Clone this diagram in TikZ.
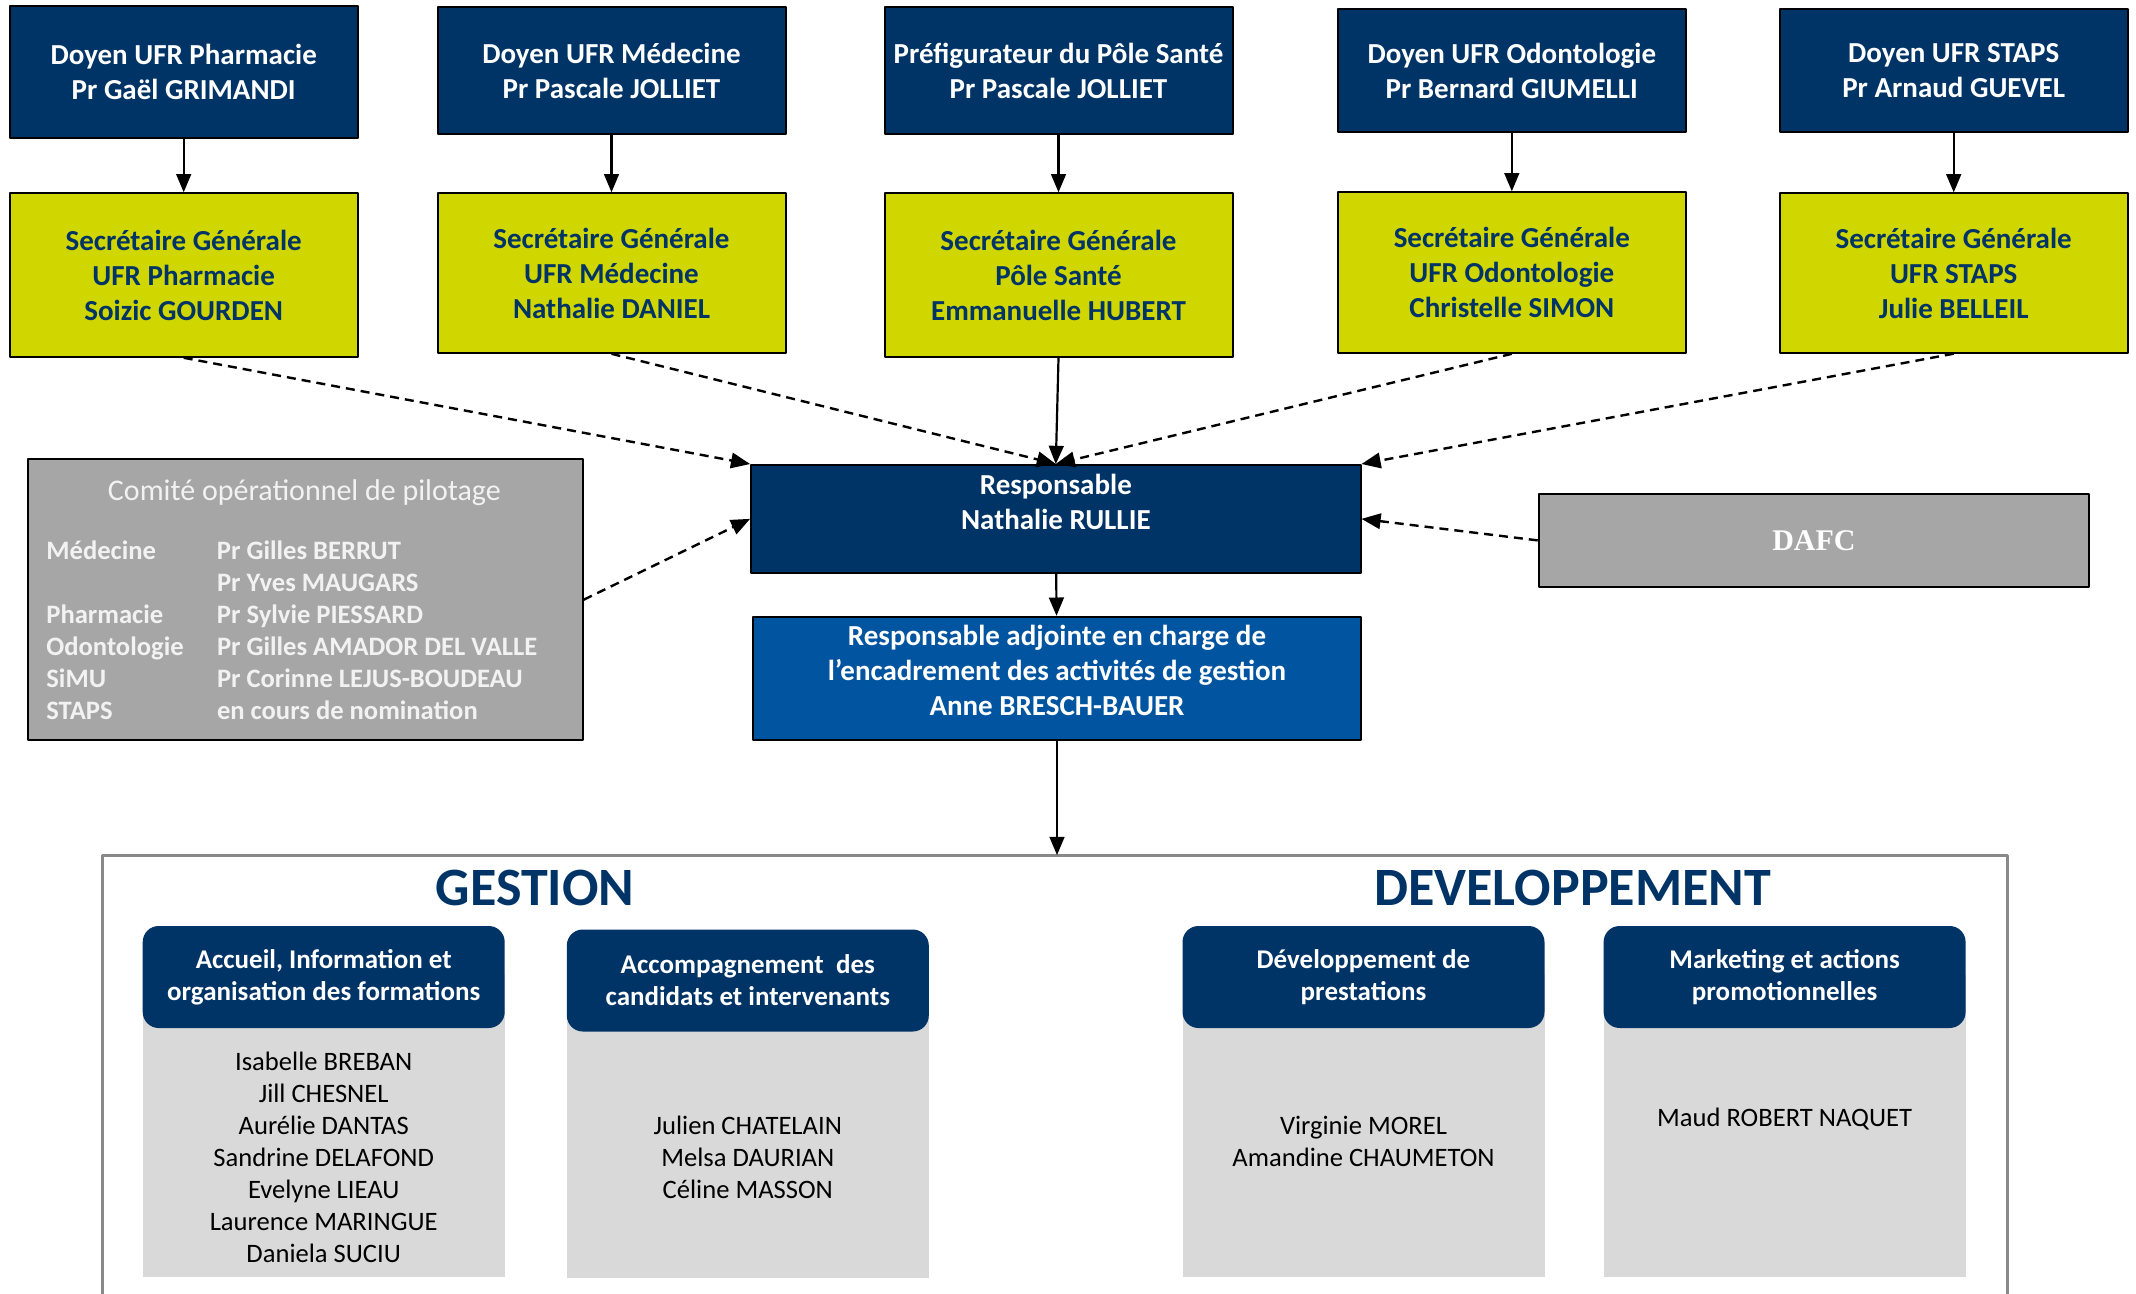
\documentclass[tikz,border=0pt]{standalone}
\usepackage{fontspec}
\setmainfont{Carlito}
\newfontfamily\dafcfont{Liberation Serif}
\usetikzlibrary{arrows}
\definecolor{navy}{RGB}{0,51,102}
\definecolor{jaune}{RGB}{208,214,0}
\definecolor{bleu}{RGB}{0,84,160}
\definecolor{gris}{RGB}{166,166,166}
\definecolor{grisclair}{RGB}{217,217,217}
\definecolor{griscadre}{RGB}{137,137,137}
\definecolor{blanccasse}{RGB}{242,242,242}
\newcommand{\topfont}{\bfseries\fontsize{14.5}{17.5}\selectfont}
\newcommand{\enteterfont}{\bfseries\fontsize{13.5}{16}\selectfont}
\newcommand{\nomfont}{\fontsize{13.3}{16}\selectfont}

\begin{document}
\begin{tikzpicture}[line join=round,>=triangle 45,x=0.5pt,y=-0.5pt,
    boite/.style={draw=black,line width=1pt,align=center,inner sep=0pt,minimum width=174pt},
    doyen/.style={boite,fill=navy,text=white,font=\topfont},
    secretaire/.style={boite,fill=jaune,text=navy,font=\topfont},
    entete/.style={fill=navy,text=white,rounded corners=8pt,align=center,inner sep=0pt,
        minimum width=181pt,minimum height=51pt,font=\enteterfont},
    corps/.style={fill=grisclair,inner sep=0pt,minimum width=181pt,minimum height=151pt,anchor=north},
    noms/.style={align=center,font=\nomfont},
    titre/.style={text=navy,font=\bfseries\fontsize{27}{31}\selectfont},
    fleche/.style={->,line width=1.1pt},
    pointille/.style={->,line width=1.2pt,dash pattern=on 4.5pt off 3pt}]
    \useasboundingbox (0,0) rectangle (2136,1294);
    \clip (0,0) rectangle (2136,1294);
    % doyens
    \node[doyen,minimum height=66.3pt] (doyenpharma) at (183.7,72) {Doyen UFR Pharmacie\\Pr Gaël GRIMANDI};
    \node[doyen,minimum height=63.8pt] (doyenmed) at (611.5,70.5) {Doyen UFR Médecine\\Pr Pascale JOLLIET};
    \node[doyen,minimum height=63.8pt] (prefig) at (1058.5,70.5) {Préfigurateur du Pôle Santé\\Pr Pascale JOLLIET};
    \node[doyen,minimum height=61.5pt] (doyenodonto) at (1511.8,70.5) {Doyen UFR Odontologie\\Pr Bernard GIUMELLI};
    \node[doyen,minimum height=61.5pt] (doyenstaps) at (1953.7,70.5) {Doyen UFR STAPS\\Pr Arnaud GUEVEL};
    % secretaires generales
    \node[secretaire,minimum height=81.8pt] (secpharma) at (183.7,275) {Secrétaire Générale\\UFR Pharmacie\\Soizic GOURDEN};
    \node[secretaire,minimum height=79.8pt] (secmed) at (611.5,273) {Secrétaire Générale\\UFR Médecine\\Nathalie DANIEL};
    \node[secretaire,minimum height=81.8pt] (secpole) at (1058.5,275) {Secrétaire Générale\\Pôle Santé\\Emmanuelle HUBERT};
    \node[secretaire,minimum height=80.3pt] (secodonto) at (1511.8,272.5) {Secrétaire Générale\\UFR Odontologie\\Christelle SIMON};
    \node[secretaire,minimum height=79.7pt] (secstaps) at (1953.7,273) {Secrétaire Générale\\UFR STAPS\\Julie BELLEIL};
    \draw[fleche] (doyenpharma) -- (secpharma);
    \draw[fleche] (doyenmed) -- (secmed);
    \draw[fleche] (prefig) -- (secpole);
    \draw[fleche] (doyenodonto) -- (secodonto);
    \draw[fleche] (doyenstaps) -- (secstaps);
    % responsables
    \node[boite,fill=navy,text=white,font=\topfont,minimum width=304.8pt,minimum height=53.9pt] (responsable) at (1055.8,518.9) {Responsable\\Nathalie RULLIE\\~};
    \node[boite,fill=bleu,text=white,font=\topfont,minimum width=303.6pt,minimum height=61.7pt] (adjointe) at (1057,678.4) {Responsable adjointe en charge de\\l’encadrement des activités de gestion\\Anne BRESCH-BAUER\\[-9pt]~};
    \node[boite,fill=gris,text=white,font=\dafcfont\bfseries\fontsize{15}{18}\selectfont,minimum width=275.2pt,minimum height=46.4pt] (dafc) at (1813.9,540.4) {DAFC};
    % comite
    \node[boite,fill=gris,minimum width=277.3pt,minimum height=140.4pt] (comite) at (305.4,599.7) {};
    \node[text=blanccasse,font=\fontsize{15}{18}\selectfont] (comitetitre) at (304.4,492.5) {Comité opérationnel de pilotage};
    \node[text=blanccasse,font=\bfseries\fontsize{13.3}{16.1}\selectfont,anchor=base west,inner sep=0pt] (comitemembres) at (46,559) {%
        \begin{tabular}[t]{@{}p{85.3pt}@{}l@{}}
        Médecine & Pr Gilles BERRUT\\
                 & Pr Yves MAUGARS\\
        Pharmacie & Pr Sylvie PIESSARD\\
        Odontologie & Pr Gilles AMADOR DEL VALLE\\
        SiMU & Pr Corinne LEJUS-BOUDEAU\\
        STAPS & en cours de nomination
        \end{tabular}};
    \draw[pointille] (secpharma.south) -- (responsable.north west);
    \draw[pointille] (secmed.south) -- (responsable.north);
    \draw[fleche] (secpole.south) -- (responsable.north);
    \draw[pointille] (secodonto.south) -- (responsable.north);
    \draw[pointille] (secstaps.south) -- (responsable.north east);
    \draw[pointille] (comite.east) -- (responsable.west);
    \draw[pointille] (dafc.west) -- (responsable.east);
    \draw[fleche] (responsable) -- (adjointe);
    % gestion et developpement
    \draw[griscadre,line width=1.5pt] (102.6,855) rectangle (2007,1340);
    \coordinate (cadrehaut) at (1057,855);
    \draw[fleche] (adjointe) -- (cadrehaut);
    \node[titre] (gestion) at (535,887.5) {GESTION};
    \node[titre] (developpement) at (1572.6,887.5) {DEVELOPPEMENT};
    \node[corps] (corpsaccueil) at (323.7,975) {};
    \node[entete] (accueil) at (323.7,977) {Accueil, Information et\\organisation des formations};
    \node[noms] (nomsaccueil) at (323.7,1157) {Isabelle BREBAN\\Jill CHESNEL\\Aurélie DANTAS\\Sandrine DELAFOND\\Evelyne LIEAU\\Laurence MARINGUE\\Daniela SUCIU};
    \node[corps,minimum height=149.3pt] (corpsaccomp) at (747.8,978.8) {};
    \node[entete] (accomp) at (747.8,980.5) {Accompagnement\ \ des\\candidats et intervenants};
    \node[noms] (nomsaccomp) at (747.8,1157) {Julien CHATELAIN\\Melsa DAURIAN\\Céline MASSON};
    \node[corps] (corpsprest) at (1363.5,975) {};
    \node[entete] (prest) at (1363.5,977) {Développement de\\prestations};
    \node[noms] (nomsprest) at (1363.5,1141) {Virginie MOREL\\Amandine CHAUMETON};
    \node[corps] (corpsmarket) at (1784.6,975) {};
    \node[entete] (market) at (1784.6,977) {Marketing et actions\\promotionnelles};
    \node[noms] (nomsmarket) at (1784.6,1119.3) {Maud ROBERT NAQUET};
\end{tikzpicture}
\end{document}
